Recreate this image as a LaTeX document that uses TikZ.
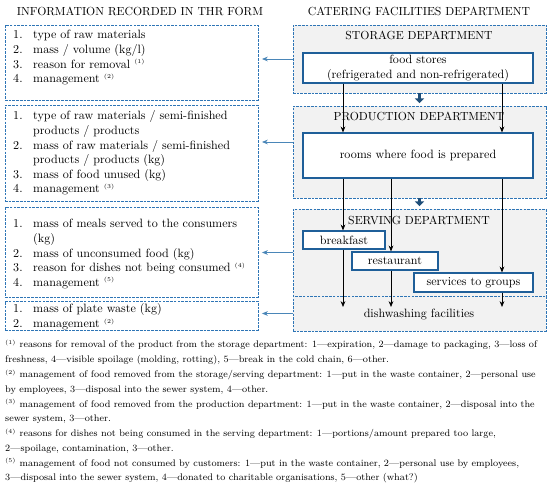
\documentclass[tikz,border=0pt]{standalone}
\usetikzlibrary{arrows.meta,fit}

\definecolor{dashblue}{HTML}{2E75B6}
\definecolor{boxblue}{HTML}{1F5F99}
\definecolor{linkblue}{HTML}{4A86B8}
\definecolor{deptarrow}{HTML}{1F4E79}
\definecolor{deptgray}{HTML}{F2F2F2}

\newcommand{\fnmark}[1]{\smash{\textsuperscript{\tiny(#1)}}}

\tikzset{
    formbox/.style={draw=dashblue,line width=0.8pt,dash pattern=on 2.2pt off 1pt,fill=white,inner sep=0pt},
    deptbox/.style={formbox,fill=deptgray},
    unitbox/.style={draw=boxblue,line width=1pt,fill=white,inner sep=0pt,align=center,
        font=\fontsize{10.3}{12.8}\selectfont},
    flow/.style={-{Stealth[length=5pt,width=4pt]},black,line width=0.6pt},
    record/.style={-{Stealth[length=5pt,width=4pt]},linkblue,line width=0.7pt,shorten >=3pt},
    passon/.style={-{Triangle[length=4pt,width=7.5pt]},deptarrow,line width=2.4pt,shorten >=2pt},
    listtext/.style={anchor=base west,inner sep=0pt,font=\fontsize{10.3}{12.4}\selectfont},
    heading/.style={inner sep=0pt,font=\fontsize{10}{12}\selectfont},
}

\begin{document}
\begin{tikzpicture}[x=0.03cm,y=-0.03cm]
    \useasboundingbox[fill=white] (0,0) rectangle (550,484);

    % column headings
    \node[heading] (formhead) at (140,11) {INFORMATION RECORDED IN THR FORM};
    \node[heading] (cathead)  at (419,11) {CATERING FACILITIES DEPARTMENT};

    % THR form boxes
    \node[formbox,fit={(5,25) (258,100)}]  (l1) {};
    \node[formbox,fit={(5,105) (258,201)}] (l2) {};
    \node[formbox,fit={(5,207) (258,297)}] (l3) {};
    \node[formbox,fit={(5,301) (258,330)}] (l4) {};

    \node[listtext] (l1t) at (13,39) {\begin{tabular}[t]{@{}p{0.6cm}@{}l@{}}
        1. & type of raw materials\\
        2. & mass / volume (kg/l)\\
        3. & reason for removal \fnmark{1}\\
        4. & management \fnmark{2}
    \end{tabular}};
    \node[listtext] (l2t) at (13,120) {\begin{tabular}[t]{@{}p{0.6cm}@{}l@{}}
        1. & type of raw materials / semi-finished\\
           & products / products\\
        2. & mass of raw materials / semi-finished\\
           & products / products (kg)\\
        3. & mass of food unused (kg)\\
        4. & management \fnmark{3}
    \end{tabular}};
    \node[listtext] (l3t) at (13,228) {\begin{tabular}[t]{@{}p{0.6cm}@{}l@{}}
        1. & mass of meals served to the consumers\\
           & (kg)\\
        2. & mass of unconsumed food (kg)\\
        3. & reason for dishes not being consumed \fnmark{4}\\
        4. & management \fnmark{5}
    \end{tabular}};
    \node[listtext] (l4t) at (13,313) {\begin{tabular}[t]{@{}p{0.6cm}@{}l@{}}
        1. & mass of plate waste (kg)\\
        2. & management \fnmark{2}
    \end{tabular}};

    % departments
    \node[deptbox,fit={(293,25) (546,93)}]   (stor) {};
    \node[deptbox,fit={(293,106) (546,198)}] (prod) {};
    \node[deptbox,fit={(293,209) (546,296)}] (serv) {};
    \node[deptbox,fit={(293,296) (546,331)}] (dish) {};

    \node[heading] (storlab) at (419,35)  {STORAGE DEPARTMENT};
    \node[heading] (prodlab) at (419,116) {PRODUCTION DEPARTMENT};
    \node[heading] (servlab) at (419,220) {SERVING DEPARTMENT};
    \node[heading,font=\fontsize{10.3}{12}\selectfont] (dishlab) at (419,314) {dishwashing facilities};

    \node[unitbox,minimum width=6.9cm,minimum height=0.9cm] (food) at (418,68)
        {food stores\\(refrigerated and non-refrigerated)};
    \node[unitbox,minimum width=6.9cm,minimum height=1.35cm] (rooms) at (418,155.5)
        {rooms where food is prepared};
    \node[unitbox,minimum width=2.46cm,minimum height=0.54cm] (brk) at (344,240) {breakfast};
    \node[unitbox,minimum width=2.58cm,minimum height=0.54cm] (rest) at (395,261) {restaurant};
    \node[unitbox,minimum width=3.57cm,minimum height=0.57cm] (grp) at (473.5,282.5) {services to groups};

    % flow of food
    \coordinate (lane1) at (343,0);
    \coordinate (lane2) at (391,0);
    \coordinate (lane3) at (502,0);
    \coordinate (dend)  at (0,307);

    \draw[flow] (food.south -| lane1) -- (rooms.north -| lane1);
    \draw[flow] (food.south -| lane3) -- (rooms.north -| lane3);
    \foreach \unit/\lane in {brk/lane1,rest/lane2,grp/lane3} {
        \draw[flow] (rooms.south -| \lane) -- (\unit.north -| \lane);
        \draw[flow] (\unit.south -| \lane) -- (dend -| \lane);
    }

    \draw[passon] (stor.south) -- (prod.north);
    \draw[passon] (prod.south) -- (serv.north);

    % what is recorded where
    \draw[record] (stor.west) -- (stor.west -| l1.east);
    \draw[record] ([yshift=0.3cm]prod.west) -- ([yshift=0.3cm]prod.west -| l2.east);
    \draw[record] (serv.west) -- (serv.west -| l3.east);
    \draw[record] (dish.west) -- (dish.west -| l4.east);

    % notes
    \node[anchor=base west,inner sep=0pt,font=\fontsize{8.2}{12.6}\selectfont] (notes) at (5,348) {%
        \begin{tabular}[t]{@{}l@{}}
        \fnmark{1} reasons for removal of the product from the storage department: 1---expiration, 2---damage to packaging, 3---loss of\\
        freshness, 4---visible spoilage (molding, rotting), 5---break in the cold chain, 6---other.\\
        \fnmark{2} management of food removed from the storage/serving department: 1---put in the waste container, 2---personal use\\
        by employees, 3---disposal into the sewer system, 4---other.\\
        \fnmark{3} management of food removed from the production department: 1---put in the waste container, 2---disposal into the\\
        sewer system, 3---other.\\
        \fnmark{4} reasons for dishes not being consumed in the serving department: 1---portions/amount prepared too large,\\
        2---spoilage, contamination, 3---other.\\
        \fnmark{5} management of food not consumed by customers: 1---put in the waste container, 2---personal use by employees,\\
        3---disposal into the sewer system, 4---donated to charitable organisations, 5---other (what?)
        \end{tabular}};
\end{tikzpicture}
\end{document}
